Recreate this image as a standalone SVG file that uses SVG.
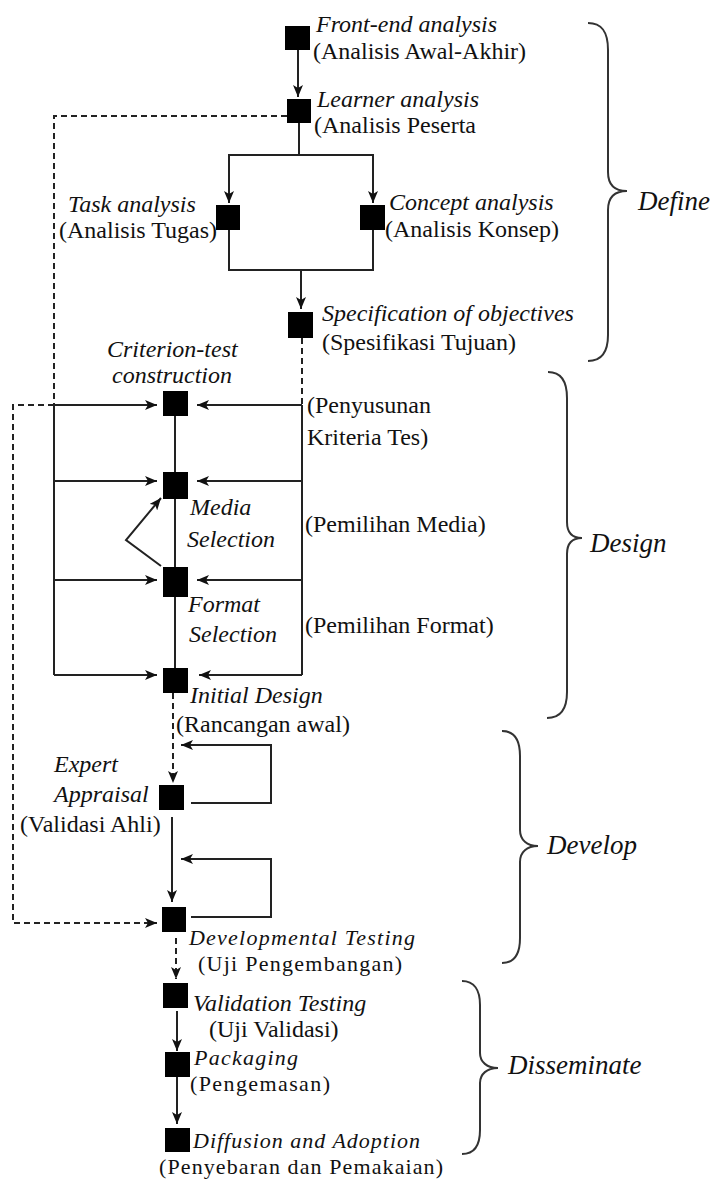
<svg xmlns="http://www.w3.org/2000/svg" width="717" height="1180" viewBox="0 0 717 1180">
<style>
  text { font-family: "Liberation Serif", "Times New Roman", serif; font-size: 24px; fill: #111; }
  .it { font-style: italic; }
  .sm { font-size: 22px; }
  .phase { font-style: italic; font-size: 27px; }
  .box { fill: #000; }
  .ln { fill: none; stroke: #222; stroke-width: 2; }
  .ds { fill: none; stroke: #222; stroke-width: 2; stroke-dasharray: 6 4; }
  .brace { fill: none; stroke: #333; stroke-width: 2; }
</style>
<defs>
  <marker id="ah" viewBox="0 0 12 10" refX="12" refY="5" markerWidth="12" markerHeight="10" markerUnits="userSpaceOnUse" orient="auto">
    <path d="M0,0 L12,5 L0,10 L3,5 z" fill="#111"/>
  </marker>
</defs>
<rect width="717" height="1180" fill="#fff"/>

<g id="connectors">
  <line class="ln" x1="298" y1="50" x2="298" y2="97" marker-end="url(#ah)"/>
  <polyline class="ds" points="287,116 54,116 54,405"/>
  <polyline class="ln" points="299,123 299,155"/>
  <polyline class="ln" points="229,155 373,155"/>
  <line class="ln" x1="229" y1="154" x2="229" y2="203" marker-end="url(#ah)"/>
  <line class="ln" x1="373" y1="154" x2="373" y2="203" marker-end="url(#ah)"/>
  <polyline class="ln" points="229,230 229,270 373,270 373,230"/>
  <line class="ln" x1="301" y1="270" x2="301" y2="309" marker-end="url(#ah)"/>
  <line class="ds" x1="302" y1="338" x2="302" y2="405"/>
  <line class="ln" x1="302" y1="405" x2="302" y2="675"/>
  <line class="ln" x1="54" y1="405" x2="54" y2="675"/>
  <line class="ln" x1="54" y1="405" x2="157" y2="405" marker-end="url(#ah)"/>
  <line class="ln" x1="54" y1="481" x2="157" y2="481" marker-end="url(#ah)"/>
  <line class="ln" x1="54" y1="580" x2="157" y2="580" marker-end="url(#ah)"/>
  <line class="ln" x1="54" y1="675" x2="157" y2="675" marker-end="url(#ah)"/>
  <line class="ln" x1="302" y1="405" x2="197" y2="405" marker-end="url(#ah)"/>
  <line class="ln" x1="302" y1="481" x2="197" y2="481" marker-end="url(#ah)"/>
  <line class="ln" x1="302" y1="580" x2="197" y2="580" marker-end="url(#ah)"/>
  <line class="ln" x1="302" y1="675" x2="199" y2="675" marker-end="url(#ah)"/>
  <line class="ln" x1="175" y1="416" x2="175" y2="472"/>
  <line class="ln" x1="175" y1="499" x2="175" y2="567"/>
  <line class="ln" x1="175" y1="597" x2="175" y2="668"/>
  <polyline class="ln" points="161,566 126,540 161,498" marker-end="url(#ah)"/>
  <polyline class="ds" points="54,405 13,405 13,923 157,923" marker-end="url(#ah)"/>
  <line class="ds" x1="173" y1="693" x2="173" y2="783" marker-end="url(#ah)"/>
  <polyline class="ln" points="191,803 271,803 271,745 181,745" marker-end="url(#ah)"/>
  <line class="ln" x1="172" y1="817" x2="172" y2="902" marker-end="url(#ah)"/>
  <polyline class="ln" points="191,917 271,917 271,859 181,859" marker-end="url(#ah)"/>
  <line class="ds" x1="176" y1="938" x2="176" y2="979" marker-end="url(#ah)"/>
  <line class="ln" x1="177" y1="1011" x2="177" y2="1051" marker-end="url(#ah)"/>
  <line class="ln" x1="177" y1="1077" x2="177" y2="1124" marker-end="url(#ah)"/>
</g>

<g id="front-end">
  <rect class="box" x="285" y="26" width="25" height="24"/>
  <text class="it" x="316" y="32">Front-end analysis</text>
  <text x="313" y="59">(Analisis Awal-Akhir)</text>
</g>
<g id="learner">
  <rect class="box" x="287" y="99" width="24" height="24"/>
  <text class="it" x="317" y="107">Learner analysis</text>
  <text x="314" y="133">(Analisis Peserta</text>
</g>
<g id="task">
  <rect class="box" x="216" y="205" width="24" height="25"/>
  <text class="it" x="68" y="212">Task analysis</text>
  <text x="59" y="238">(Analisis Tugas)</text>
</g>
<g id="concept">
  <rect class="box" x="360" y="205" width="25" height="25"/>
  <text class="it" x="389" y="210">Concept analysis</text>
  <text x="385" y="237">(Analisis Konsep)</text>
</g>
<g id="specification">
  <rect class="box" x="288" y="312" width="25" height="26"/>
  <text class="it" x="322" y="321">Specification of objectives</text>
  <text x="322" y="350">(Spesifikasi Tujuan)</text>
</g>
<g id="criterion">
  <rect class="box" x="163" y="391" width="25" height="25"/>
  <text class="it" x="107" y="357">Criterion-test</text>
  <text class="it" x="112" y="383">construction</text>
  <text x="307" y="413">(Penyusunan</text>
  <text x="307" y="445">Kriteria Tes)</text>
</g>
<g id="media">
  <rect class="box" x="163" y="472" width="25" height="27"/>
  <text class="it" x="190" y="515">Media</text>
  <text class="it" x="187" y="547">Selection</text>
  <text x="305" y="532">(Pemilihan Media)</text>
</g>
<g id="format">
  <rect class="box" x="163" y="567" width="25" height="30"/>
  <text class="it" x="188" y="612">Format</text>
  <text class="it" x="189" y="642">Selection</text>
  <text x="305" y="633">(Pemilihan Format)</text>
</g>
<g id="initial-design">
  <rect class="box" x="163" y="668" width="25" height="25"/>
  <text class="it" x="190" y="703">Initial Design</text>
  <text x="176" y="732">(Rancangan awal)</text>
</g>
<g id="expert">
  <rect class="box" x="159" y="785" width="25" height="25"/>
  <text class="it" x="54" y="772">Expert</text>
  <text class="it" x="54" y="802">Appraisal</text>
  <text x="20" y="832">(Validasi Ahli)</text>
</g>
<g id="developmental">
  <rect class="box" x="162" y="907" width="24" height="25"/>
  <text class="it sm" x="189" y="945" textLength="226" lengthAdjust="spacing">Developmental Testing</text>
  <text class="sm" x="198" y="971" textLength="204" lengthAdjust="spacing">(Uji Pengembangan)</text>
</g>
<g id="validation">
  <rect class="box" x="163" y="983" width="25" height="25"/>
  <text class="it" x="193" y="1011">Validation Testing</text>
  <text x="209" y="1037">(Uji Validasi)</text>
</g>
<g id="packaging">
  <rect class="box" x="165" y="1052" width="25" height="25"/>
  <text class="it sm" x="194" y="1065" textLength="104" lengthAdjust="spacing">Packaging</text>
  <text class="sm" x="190" y="1091" textLength="140" lengthAdjust="spacing">(Pengemasan)</text>
</g>
<g id="diffusion">
  <rect class="box" x="165" y="1128" width="25" height="24"/>
  <text class="it sm" x="193" y="1148" textLength="227" lengthAdjust="spacing">Diffusion and Adoption</text>
  <text class="sm" x="159" y="1174" textLength="284" lengthAdjust="spacing">(Penyebaran dan Pemakaian)</text>
</g>

<g id="phase-define">
  <path class="brace" d="M588,23 C602,23 608,32 608,50 L608,172 C608,184 614,191 627,191 C614,191 608,198 608,210 L608,335 C608,352 602,361 588,361"/>
  <text class="phase" x="638" y="210">Define</text>
</g>
<g id="phase-design">
  <path class="brace" d="M548,372 C561,372 567,381 567,398 L567,522 C567,532 572,538 582,538 C572,538 567,544 567,554 L567,692 C567,709 561,718 547,718"/>
  <text class="phase" x="590" y="552">Design</text>
</g>
<g id="phase-develop">
  <path class="brace" d="M502,731 C514,731 520,740 520,756 L520,830 C520,840 527,846 538,846 C527,846 520,852 520,862 L520,938 C520,955 514,963 502,963"/>
  <text class="phase" x="547" y="854">Develop</text>
</g>
<g id="phase-disseminate">
  <path class="brace" d="M462,981 C474,981 480,990 480,1005 L480,1053 C480,1062 487,1068 498,1068 C487,1068 480,1074 480,1083 L480,1130 C480,1146 474,1154 462,1154"/>
  <text class="phase" x="508" y="1074">Disseminate</text>
</g>
</svg>
